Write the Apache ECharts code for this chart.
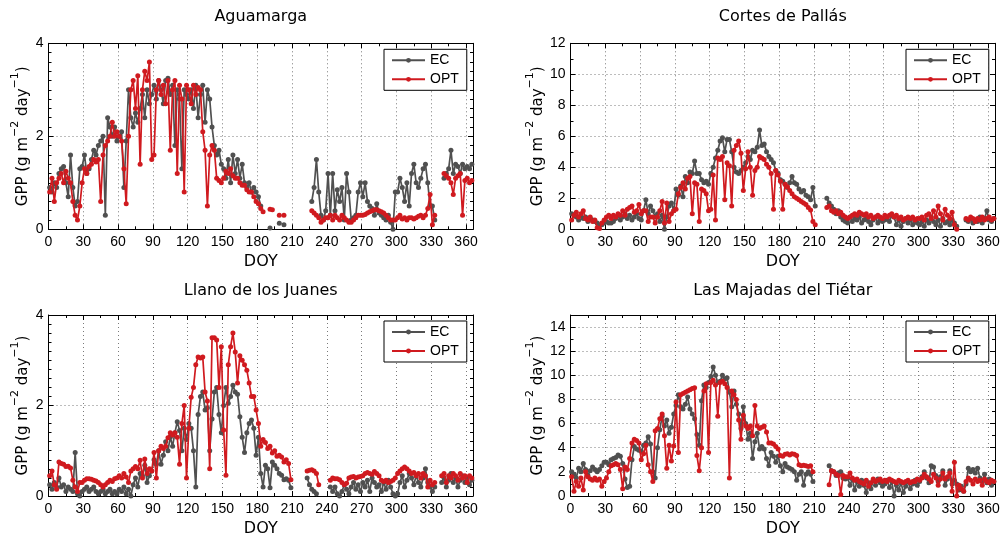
<!DOCTYPE html>
<html>
<head>
<meta charset="utf-8">
<script src="https://cdn.jsdelivr.net/npm/echarts@6/dist/echarts.min.js"></script>
<style>
  html, body { margin: 0; padding: 0; background: #fff; }
  #chart { width: 1003px; height: 538px; }
</style>
</head>
<body>
<div id="chart"></div>
<script>
// Daily GPP at four sites: eddy covariance (EC) vs optical model (OPT).
// Values are listed every second day of the year, starting on DOY 1; null marks missing days.
const FIRST_DAY = 1;
const DAY_STEP = 2;

const siteNames = ['Aguamarga', 'Cortes de Pallás', 'Llano de los Juanes', 'Las Majadas del Tiétar'];
const seriesNames = ['EC', 'OPT'];
const xTickLabels = [0, 30, 60, 90, 120, 150, 180, 210, 240, 270, 300, 330, 360];
const yTopValues = [4, 12, 4, 15];

// Aguamarga
const agEC = [
  0.9, 0.8, 1.0, 0.9, 1.2, 1.3, 1.35, 1.0, 0.7, 1.6, 0.9, 0.5, 0.6, 1.3, 1.35,
  1.6, 1.2, 1.3, 1.5, 1.7, 1.6, 1.8, 1.9, 2.0, 0.3, 2.4, 2.2, 2.0, 2.2, 1.9,
  2.0, 2.1, 0.9, 1.9, 3.0, 2.4, 2.2, 2.5, 2.3, 2.6, 2.9, 2.4, 3.0, 2.7, 2.9,
  3.1, 2.8, 3.2, 3.0, 2.7, 3.2, 3.25, 2.9, 3.1, 1.8, 3.0, 2.8, 1.3, 3.0, 2.9,
  2.8, 3.0, 2.6, 3.1, 2.4, 2.9, 3.1, 2.3, 3.0, 2.8, 2.2, 1.8, 1.6, 1.7, 1.4,
  1.3, 1.1, 1.5, 1.0, 1.6, 1.2, 1.5, 1.1, 1.4, 1.0, 0.9, 1.0, 0.8, 0.9, 0.8,
  0.7, 0.5, null, null, null, 0.03, null, null, null, 0.13, null, 0.1, null, null, null,
  null, null, null, null, null, null, null, null, 0.6, 0.9, 1.5, 0.8, 0.3, 0.2, 0.4,
  1.2, 0.3, 1.2, 0.4, 0.85, 0.6, 0.9, 0.2, 1.2, 0.8, 0.2, 0.25, 0.3, 0.8, 1.0,
  0.7, 1.0, 0.6, 0.5, 0.45, 0.3, 0.55, 0.35, 0.3, 0.25, 0.2, 0.3, 0.15, 0.0, 0.8,
  0.8, 1.1, 0.9, 0.6, 1.0, 0.5, 1.2, 1.4, 1.0, 0.9, 1.1, 1.3, 1.4, 1.0, 0.5,
  0.5, 0.2, null, null, null, 1.1, 1.2, 1.3, 1.7, 1.2, 1.4, 1.35, 1.2, 1.4, 1.3, 1.35, 1.3, 1.4
];
const agOPT = [
  0.8, 1.1, 0.6, 1.0, 1.1, 1.2, 1.0, 1.25, 1.1, 1.0, 0.6, 0.3, 0.2, 0.5, 1.0,
  1.3, 1.2, 1.35, 1.4, 1.5, 1.45, 1.5, 0.6, 1.6, 1.8, 1.9, 2.0, 2.3, 2.0, 2.1,
  2.0, 1.9, 1.3, 0.55, 2.0, 3.0, 3.2, 2.6, 3.3, 1.4, 3.0, 3.4, 3.2, 3.6, 1.5,
  1.6, 3.0, 3.2, 2.9, 3.1, 2.7, 3.2, 1.7, 3.0, 3.2, 1.2, 3.1, 2.8, 0.8, 3.1,
  3.0, 2.7, 3.1, 2.9, 3.05, 3.0, 2.1, 1.7, 0.5, 1.6, 1.8, 1.7, 1.1, 1.05, 1.0,
  1.1, 1.25, 1.2, 1.3, 1.15, 1.1, 1.1, 1.0, 0.95, 0.95, 0.85, 0.8, 0.8, 0.7, 0.6,
  0.55, 0.45, 0.38, null, null, 0.43, 0.42, null, null, 0.3, null, 0.3, null, null, null,
  null, null, null, null, null, null, null, null, 0.4, 0.35, 0.3, 0.25, 0.15, 0.2, 0.25,
  0.25, 0.3, 0.2, 0.3, 0.25, 0.2, 0.3, 0.25, 0.2, 0.15, 0.15, 0.2, 0.25, 0.3, 0.3,
  0.3, 0.32, 0.35, 0.38, 0.4, 0.42, 0.42, 0.4, 0.38, 0.35, 0.3, 0.25, 0.2, 0.2, 0.2,
  0.25, 0.3, 0.22, 0.25, 0.2, 0.25, 0.25, 0.22, 0.25, 0.28, 0.3, 0.25, 0.3, 0.45, 0.75,
  0.1, 0.3, null, null, null, 1.2, 1.15, 1.1, 1.0, 0.75, 1.1, 1.15, 1.2, 0.3, 1.05, 1.1, 1.0, 1.05
];

// Cortes de Pallás
const cpEC = [
  1.0, 0.9, 0.8, 0.6, 0.9, 0.7, 0.8, 0.5, 0.7, 0.6, 0.5, 0.4, 0.3, 0.3, 0.4,
  0.5, 0.4, 0.4, 0.5, 0.7, 0.9, 0.6, 0.8, 1.0, 0.7, 0.9, 0.6, 0.8, 1.0, 0.7,
  0.6, 1.2, 1.9, 1.0, 1.5, 1.2, 0.8, 1.0, 0.5, 0.9, 0.0, 0.8, 1.5, 1.7, 1.2,
  2.6, 2.2, 2.8, 2.1, 3.4, 3.0, 3.7, 3.6, 4.4, 3.6, 3.6, 3.2, 3.0, 3.1, 2.9,
  3.6, 4.0, 4.6, 5.1, 5.7, 5.9, 5.0, 5.8, 5.8, 5.0, 4.0, 3.7, 3.6, 3.8, 4.0,
  4.3, 4.7, 4.5, 5.1, 5.0, 5.3, 6.4, 5.4, 5.5, 5.0, 4.7, 4.5, 4.3, 3.8, 3.6,
  3.2, 3.1, 2.9, 2.7, 3.0, 3.4, 3.0, 2.9, 2.6, 2.4, 2.5, 2.2, 2.1, 1.9, 2.7,
  1.5, null, null, null, null, 2.0, 1.7, 1.5, 1.3, 1.0, 1.2, 0.8, 0.6, 0.5, 0.4,
  0.8, 0.5, 0.7, 0.6, 0.8, 0.4, 0.6, 0.7, 0.5, 0.3, 0.6, 0.8, 0.4, 0.6, 0.5,
  0.6, 0.7, 0.5, 0.9, 0.8, 0.3, 0.6, 0.2, 0.5, 0.7, 0.4, 0.6, 0.3, 0.5, 0.4,
  0.3, 0.5, 0.2, 0.6, 0.4, 0.8, 0.5, 0.3, 0.6, 0.2, 0.7, 0.4, 0.5, 0.3, 0.6,
  0.4, 0.2, null, null, null, 0.6, 0.5, 0.7, 0.4, 0.6, 0.5, 0.8, 0.4, 0.7, 1.2, 0.6, 0.5, 0.7
];
const cpOPT = [
  0.6, 0.9, 1.1, 0.8, 1.0, 1.2, 0.7, 0.6, 0.8, 0.5, 0.6, 0.1, 0.05, 0.4, 0.6,
  0.8, 0.9, 0.7, 0.9, 0.8, 1.0, 0.9, 1.2, 0.9, 1.3, 1.4, 1.5, 1.1, 1.2, 1.6,
  1.0, 1.2, 1.2, 0.5, 0.8, 0.8, 0.4, 0.8, 1.2, 1.8, 0.4, 1.7, 0.5, 1.0, 1.2,
  1.3, 2.3, 2.7, 3.0, 2.6, 3.3, 3.4, 1.0, 3.0, 2.9, 0.5, 2.6, 2.5, 2.3, 1.2,
  1.3, 3.5, 0.6, 4.6, 4.5, 4.7, 1.9, 4.3, 4.1, 1.5, 5.1, 5.4, 5.7, 4.9, 2.5,
  3.9, 5.0, 4.0, 2.2, 3.8, 4.0, 4.7, 4.6, 4.5, 4.2, 4.0, 3.6, 1.3, 3.8, 3.5,
  3.1, 1.3, 2.9, 2.75, 2.5, 2.3, 2.1, 2.0, 1.9, 1.8, 1.7, 1.6, 1.4, 1.25, 0.5,
  0.3, null, null, null, null, 1.4, 1.5, 1.2, 1.1, 1.2, 1.0, 1.1, 0.9, 0.8, 0.7,
  0.8, 0.9, 1.0, 0.9, 1.1, 1.0, 0.9, 1.0, 0.8, 0.9, 0.7, 0.8, 0.9, 0.8, 0.7,
  0.9, 0.8, 0.9, 1.0, 0.8, 0.9, 0.7, 0.8, 0.6, 0.7, 0.8, 0.7, 0.8, 0.6, 0.7,
  0.7, 0.8, 0.6, 0.9, 1.0, 0.7, 1.2, 0.8, 1.5, 1.0, 0.6, 1.3, 0.9, 0.7, 1.1,
  0.3, 0.0, null, null, null, 0.7, 0.6, 0.8, 0.7, 0.5, 0.7, 0.6, 0.8, 0.6, 0.7, 0.8, 0.6, 0.7
];

// Llano de los Juanes
const ljEC = [
  0.25, 0.15, 0.3, 0.2, 0.4, 0.2, 0.25, 0.1, 0.2, 0.15, 0.1, 0.96, 0.05, 0.0, 0.1,
  0.15, 0.2, 0.1, 0.15, 0.2, 0.1, 0.05, 0.1, 0.15, 0.05, 0.1, 0.15, 0.05, 0.1, 0.05,
  0.15, 0.1, 0.2, 0.05, 0.15, 0.0, 0.25, 0.4, 0.2, 0.5, 0.45, 0.68, 0.3, 0.45, 0.55,
  0.8, 0.7, 1.0, 0.7, 0.9, 1.2, 1.0, 1.3, 1.1, 1.4, 1.64, 1.45, 1.0, 1.5, 1.25,
  1.6, 1.5, 1.0, 0.2, 1.8, 2.2, 2.3, 1.9, 1.95, 1.0, 1.7, 2.3, 2.4, 1.8, 1.4,
  2.0, 2.4, 2.05, 2.2, 2.45, 2.3, 2.25, 1.75, 1.3, 0.96, 1.4, 1.6, 1.68, 1.5, 0.9,
  1.3, 0.5, 0.2, 0.68, 0.6, 0.18, 0.75, 0.68, 0.6, 0.5, 0.46, 0.36, 0.38, 0.35, 0.18,
  null, null, null, null, null, null, 0.4, 0.25, 0.15, 0.1, 0.05, null, null, null, null,
  null, 0.2, 0.1, 0.2, 0.05, 0.0, 0.1, 0.25, 0.15, 0.05, 0.2, 0.3, 0.15, 0.25, 0.1,
  0.3, 0.2, 0.35, 0.1, 0.4, 0.3, 0.2, 0.25, 0.1, 0.3, 0.15, 0.35, 0.2, 0.05, 0.0,
  0.05, 0.3, 0.45, 0.2, 0.35, 0.5, 0.4, 0.25, 0.45, 0.3, 0.2, 0.4, 0.6, 0.3, 0.2,
  0.1, 0.2, null, null, 0.3, 0.4, 0.2, 0.35, 0.5, 0.3, 0.4, 0.2, 0.35, 0.45, 0.3, 0.4, 0.25, 0.35
];
const ljOPT = [
  0.45, 0.55, 0.25, 0.15, 0.75, 0.72, 0.7, 0.65, 0.66, 0.62, 0.35, 0.2, 0.1, 0.3, 0.3,
  0.35, 0.38, 0.38, 0.37, 0.35, 0.33, 0.3, 0.25, 0.2, 0.25, 0.3, 0.35, 0.32, 0.38, 0.4,
  0.45, 0.4, 0.5, 0.42, 0.3, 0.55, 0.6, 0.65, 0.6, 0.79, 0.4, 0.82, 0.5, 0.6, 0.55,
  0.96, 0.4, 1.0, 1.1, 1.05, 1.1, 1.29, 1.4, 1.35, 1.4, 1.3, 0.7, 1.6, 2.0, 0.4,
  1.5, 2.18, 2.4, 2.9, 3.07, 3.05, 3.07, 2.3, 2.1, 0.6, 3.5, 3.5, 3.45, 2.4, 3.3,
  1.46, 0.46, 2.9, 3.3, 3.6, 3.18, 2.5, 3.1, 3.0, 2.9, 2.78, 2.5, 2.2, 2.2, 1.9,
  1.6, 1.1, 1.25, 1.18, 1.05, 1.1, 0.95, 1.0, 0.88, 0.9, 0.86, 0.75, 0.8, 0.72, 0.36,
  null, null, null, null, null, null, 0.55, 0.57, 0.58, 0.55, 0.5, 0.25, null, null, null,
  null, 0.35, 0.4, 0.38, 0.38, 0.36, 0.3, 0.25, 0.28, 0.4, 0.42, 0.43, 0.4, 0.42, 0.43,
  0.45, 0.5, 0.52, 0.5, 0.48, 0.54, 0.5, 0.45, 0.35, 0.32, 0.35, 0.3, 0.32, 0.35, 0.4,
  0.5, 0.55, 0.6, 0.64, 0.6, 0.55, 0.5, 0.52, 0.45, 0.5, 0.4, 0.5, 0.45, 0.2, 0.35,
  0.25, 0.3, null, null, 0.45, 0.5, 0.3, 0.45, 0.4, 0.5, 0.45, 0.35, 0.5, 0.4, 0.45, 0.3, 0.45, 0.4
];

// Las Majadas del Tiétar
const mjEC = [
  2.0, 1.8, 1.5, 2.3, 2.0, 2.7, 2.2, 1.7, 2.1, 2.4, 2.2, 2.0, 2.2, 2.5, 2.8,
  2.8, 2.6, 3.0, 3.1, 3.2, 3.4, 3.3, 2.7, 1.4, 0.7, 0.8, 3.0, 4.1, 3.9, 3.8,
  3.7, 4.2, 4.4, 4.9, 4.3, 2.0, 1.5, 4.0, 5.5, 6.6, 5.8, 6.3, 5.2, 5.7, 6.8,
  7.5, 8.4, 7.4, 7.2, 7.6, 8.2, 7.2, 6.8, 6.4, 5.1, 4.2, 7.9, 9.2, 9.0, 9.4,
  9.9, 10.7, 10.0, 9.4, 9.5, 10.0, 9.7, 9.8, 8.6, 7.4, 8.7, 7.6, 6.8, 5.6, 7.4,
  6.0, 4.7, 5.2, 3.1, 4.5, 5.2, 3.9, 4.1, 3.9, 3.1, 2.5, 3.6, 3.3, 2.8, 3.3,
  2.5, 2.0, 2.7, 2.4, 2.3, 2.2, 2.0, 1.3, 1.8, 2.0, 0.9, 1.8, 2.0, 1.8, 1.2,
  null, null, null, null, null, null, 2.5, 2.1, 2.0, 1.7, 1.9, 2.0, 1.5, 1.4, 1.5,
  0.9, 1.4, 0.5, 1.2, 0.8, 1.3, 0.9, 0.3, 1.1, 0.6, 1.3, 0.9, 1.4, 1.1, 0.8,
  1.0, 1.3, 0.7, 1.2, 0.0, 0.9, 0.5, 1.1, 0.3, 0.8, 1.2, 0.6, 1.0, 1.3, 0.9,
  1.2, 1.6, 2.0, 1.5, 1.1, 2.5, 2.4, 1.7, 1.2, 1.6, 2.1, 0.9, 1.4, 2.1, 1.0,
  1.3, 1.0, 0.5, 0.8, 0.4, 1.0, 2.3, 2.0, 2.2, 1.9, 2.3, 1.5, 1.2, 1.8, 1.1, 1.4, 0.9, 1.2
];
const mjOPT = [
  1.6, 0.4, 1.2, 0.8, 1.5, 0.5, 2.0, 1.6, 1.4, 1.3, 1.5, 1.3, 1.4, 0.8, 1.2,
  1.5, 2.0, 2.5, 2.6, 2.7, 2.6, 2.2, 0.6, 2.4, 2.2, 3.1, 4.4, 4.7, 4.6, 4.4,
  3.0, 3.5, 4.2, 2.6, 2.0, 1.2, 5.4, 5.6, 6.4, 6.8, 5.0, 2.3, 4.2, 2.9, 4.15,
  7.8, 3.6, 8.4, 8.5, 8.6, 8.7, 8.8, 8.9, 8.97, 3.35, 2.1, 4.0, 8.7, 9.3, 3.6,
  9.4, 9.6, 9.2, 6.6, 9.4, 9.5, 9.3, 9.0, 1.5, 8.7, 8.4, 8.0, 6.3, 4.7, 6.7,
  5.8, 5.6, 5.8, 5.0, 7.5, 5.8, 5.6, 5.7, 5.8, 5.3, 4.4, 4.4, 4.3, 4.1, 3.9,
  3.35, 3.3, 3.45, 3.5, 3.4, 3.5, 3.45, 3.35, 2.6, 2.5, 2.55, 2.5, 2.45, 2.5, 2.0,
  null, null, null, null, null, null, 0.94, 2.1, 2.0, 1.8, 1.7, 0.13, 1.7, 1.6, 1.6,
  1.9, 1.5, 1.3, 1.4, 1.2, 1.1, 1.0, 1.3, 0.8, 1.1, 1.4, 1.2, 1.3, 1.4, 1.2,
  1.3, 1.2, 1.4, 1.3, 1.2, 1.1, 1.3, 1.2, 1.1, 1.2, 1.3, 1.1, 1.2, 1.2, 1.4,
  1.3, 1.5, 1.8, 1.6, 1.4, 1.2, 1.8, 1.5, 0.9, 1.4, 1.9, 1.4, 1.6, 1.9, 0.4,
  2.8, 0.0, 0.9, 0.6, 0.4, 1.2, 1.5, 1.3, 1.0, 1.4, 1.2, 1.3, 0.9, 1.4, 1.2, 1.1, 1.3, 1.2
];

const siteSeries = [[agEC, agOPT], [cpEC, cpOPT], [ljEC, ljOPT], [mjEC, mjOPT]];

// ---- presentation ----
const FONT = '"Liberation Sans", Arial, sans-serif';
const LABEL_FONT = '"DejaVu Sans", Verdana, sans-serif';
const COLORS = ['#505050', '#d01a1f'];
const DAY_MAX = 366;
const panels = [
  { left: 48.5, top: 43.3, width: 424.5, height: 186, titleY: 17 },
  { left: 570.5, top: 43.3, width: 424.5, height: 186, titleY: 17 },
  { left: 48.5, top: 315, width: 424.5, height: 186.7, titleY: 291 },
  { left: 570.5, top: 315, width: 424.5, height: 186.7, titleY: 291 }
];
const yMinorSplit = [10, 2, 10, 2];

function toPairs(values) {
  return values.map((v, i) => [FIRST_DAY + i * DAY_STEP, v === null ? '-' : v]);
}

const frame = { color: '#000', width: 1 };
const gridLine = { show: true, lineStyle: { type: [1, 3], color: '#7a7a7a', width: 1 } };
const grids = [], xAxes = [], yAxes = [], series = [], legends = [], graphics = [];

panels.forEach((p, g) => {
  grids.push({ left: p.left, top: p.top, width: p.width, height: p.height, containLabel: false });

  const xBase = {
    gridIndex: g, type: 'value', min: 0, max: DAY_MAX, interval: 30,
    axisLine: { show: true, onZero: false, lineStyle: frame },
    axisTick: { show: true, inside: true, length: 5, lineStyle: frame },
    minorTick: { show: true, splitNumber: 2, length: 3, lineStyle: frame }
  };
  xAxes.push(Object.assign({}, xBase, {
    position: 'bottom',
    name: 'DOY', nameLocation: 'middle', nameGap: 25,
    nameTextStyle: { fontFamily: LABEL_FONT, fontSize: 16, color: '#000' },
    axisLabel: {
      show: true, fontFamily: FONT, fontSize: 14, color: '#000', margin: 6,
      showMaxLabel: false,
      formatter: v => (xTickLabels.indexOf(v) >= 0 ? String(v) : '')
    },
    splitLine: gridLine
  }));
  xAxes.push(Object.assign({}, xBase, {
    position: 'top', axisLabel: { show: false }, splitLine: { show: false }
  }));

  const yBase = {
    gridIndex: g, type: 'value', min: 0, max: yTopValues[g], interval: 2,
    axisLine: { show: true, onZero: false, lineStyle: frame },
    axisTick: { show: true, inside: true, length: 5, lineStyle: frame },
    minorTick: { show: true, splitNumber: yMinorSplit[g], length: 3, lineStyle: frame }
  };
  yAxes.push(Object.assign({}, yBase, {
    position: 'left',
    name: '{t|GPP (g m}{s|−2}{t| day}{s|−1}{t|)}',
    nameLocation: 'middle', nameGap: 18, nameRotate: 90,
    nameTextStyle: {
      fontFamily: LABEL_FONT, fontSize: 15, color: '#000',
      rich: {
        t: { fontFamily: LABEL_FONT, fontSize: 15, color: '#000', lineHeight: 21, verticalAlign: 'bottom' },
        s: { fontFamily: LABEL_FONT, fontSize: 11, color: '#000', lineHeight: 11, verticalAlign: 'top' }
      }
    },
    axisLabel: {
      show: true, fontFamily: FONT, fontSize: 14, color: '#000', margin: 5,
      showMaxLabel: yTopValues[g] % 2 === 0
    },
    splitLine: gridLine
  }));
  yAxes.push(Object.assign({}, yBase, {
    position: 'right', axisLabel: { show: false }, splitLine: { show: false }
  }));

  siteSeries[g].forEach((vals, k) => {
    series.push({
      name: seriesNames[k], type: 'line',
      xAxisIndex: 2 * g, yAxisIndex: 2 * g,
      data: toPairs(vals),
      connectNulls: false,
      symbol: 'circle', symbolSize: 5, showSymbol: true,
      lineStyle: { color: COLORS[k], width: 1.7 },
      itemStyle: { color: COLORS[k] },
      z: 2 + k
    });
  });

  legends.push({
    data: seriesNames,
    orient: 'vertical',
    left: p.left + p.width - 89,
    top: p.top + 6,
    backgroundColor: '#fff',
    borderColor: '#000', borderWidth: 1, borderRadius: 0,
    padding: [4, 8, 4, 7],
    itemGap: 5, itemWidth: 33, itemHeight: 6,
    textStyle: { fontFamily: FONT, fontSize: 14, color: '#000' },
    selectedMode: false
  });

  graphics.push({
    type: 'text',
    x: p.left + p.width / 2,
    y: p.titleY,
    style: {
      text: siteNames[g], fill: '#000',
      font: '16px ' + LABEL_FONT,
      align: 'center', verticalAlign: 'middle'
    }
  });
});

const chart = echarts.init(document.getElementById('chart'), null, { renderer: 'canvas' });
chart.setOption({
  animation: false,
  backgroundColor: '#fff',
  grid: grids,
  xAxis: xAxes,
  yAxis: yAxes,
  legend: legends,
  series: series,
  graphic: graphics
});
</script>
</body>
</html>
